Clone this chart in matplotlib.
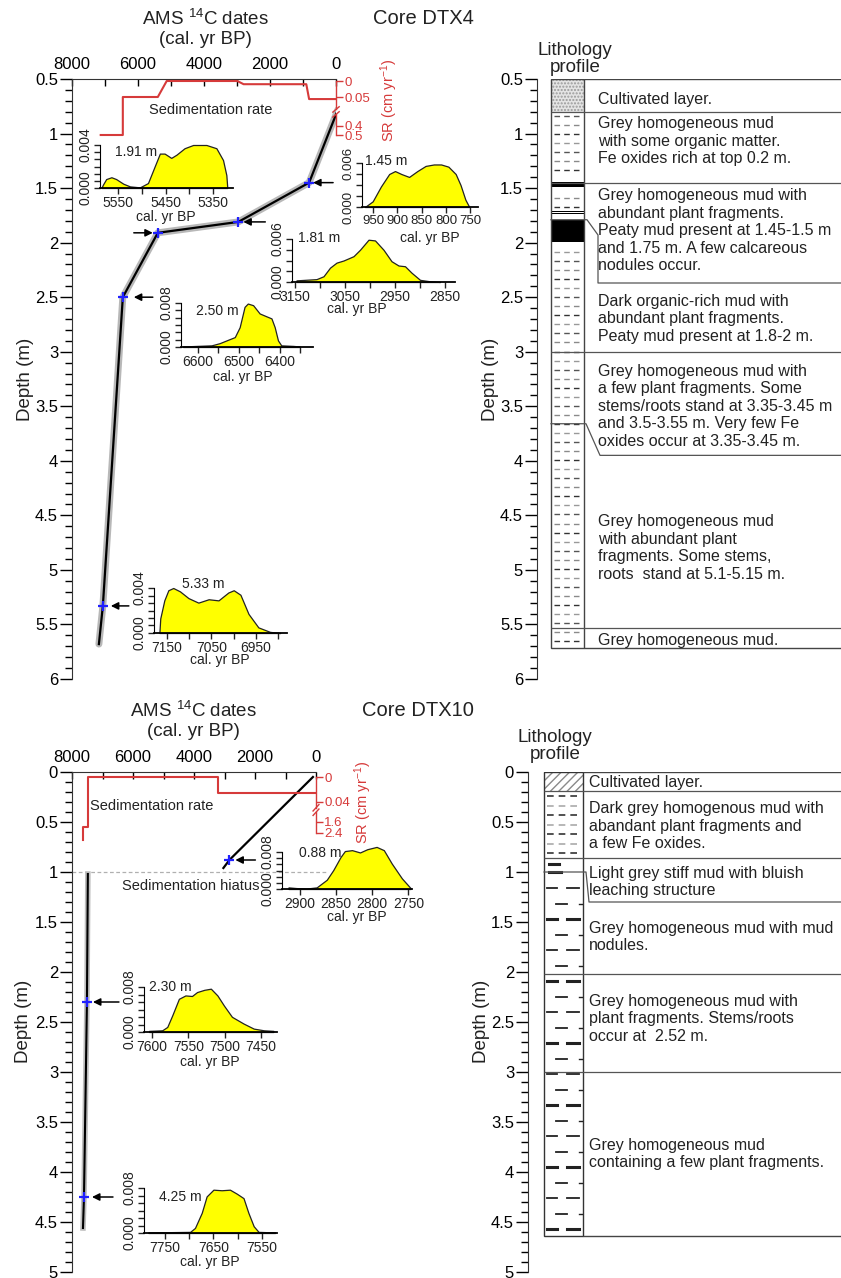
import numpy as np
import matplotlib
matplotlib.use("Agg")
import matplotlib.pyplot as plt
from matplotlib.patches import Rectangle
from matplotlib.ticker import MultipleLocator, FormatStrFormatter, NullLocator

plt.rcParams['font.family'] = ['Liberation Sans', 'DejaVu Sans']
plt.rcParams['mathtext.fontset'] = 'custom'
plt.rcParams['mathtext.rm'] = 'Liberation Sans'
plt.rcParams['mathtext.it'] = 'Liberation Sans:italic'
plt.rcParams['mathtext.bf'] = 'Liberation Sans:bold'

# ---------------- data ----------------
# age-depth model DTX4
dtx4_age = [-60, 815, 2960, 5400, 6460, 7065, 7185]
dtx4_depth = [0.78, 1.45, 1.81, 1.91, 2.50, 5.33, 5.68]
dtx4_dated_age = [815, 2960, 5400, 6460, 7065]
dtx4_dated_depth = [1.45, 1.81, 1.91, 2.50, 5.33]

# sedimentation rate DTX4 (cm/yr)
dtx4_sr_age = [7130, 6460, 6460, 5400, 5130, 2990, 2800, 900, 815, 30]
dtx4_sr = [0.5, 0.5, 0.05, 0.05, 0.0, 0.0, 0.01, 0.01, 0.075, 0.075]

# age-depth model DTX10 (two segments, hiatus at 1 m)
dtx10_top_age = [100, 2840, 3036]
dtx10_top_depth = [0.05, 0.88, 0.96]
dtx10_low_age = [7480, 7510, 7607, 7640]
dtx10_low_depth = [1.02, 2.30, 4.25, 4.56]
dtx10_dated_age = [2840, 7510, 7607]
dtx10_dated_depth = [0.88, 2.30, 4.25]

dtx10_sr_age = [7640, 7640, 7480, 7480, 3200, 3200, 30]
dtx10_sr = [2.9, 2.0, 2.0, 0.0, 0.0, 0.026, 0.026]

# calibrated probability distributions
a_age = [5585, 5582, 5575, 5564, 5554, 5539, 5525, 5504, 5487, 5473, 5462, 5452, 5438, 5427, 5410, 5392, 5364, 5343, 5329, 5322, 5320]
a_p = [0, 0.0003, 0.00083, 0.001, 0.00083, 0.0004, 0.00015, 0.00006, 0.00046, 0.002, 0.0032, 0.0032, 0.0028, 0.0031, 0.0037, 0.004, 0.004, 0.0037, 0.0026, 0.0012, 0.0]

b_age = [967, 951, 934, 917, 905, 892, 876, 859, 842, 825, 810, 795, 780, 770, 760, 752]
b_p = [0, 0.00077, 0.0028, 0.0045, 0.0049, 0.0045, 0.0041, 0.0049, 0.0056, 0.0058, 0.0058, 0.0055, 0.0045, 0.003, 0.001, 0]

c_age = [3147, 3107, 3093, 3080, 3067, 3053, 3033, 3020, 3003, 2990, 2973, 2957, 2943, 2930, 2917, 2900, 2880, 2860]
c_p = [0.00023, 0.0004, 0.0008, 0.002, 0.0027, 0.003, 0.0036, 0.0045, 0.0059, 0.0058, 0.0045, 0.0029, 0.0023, 0.0022, 0.0013, 0.0003, 0.0001, 0]

d_age = [6637, 6567, 6547, 6527, 6510, 6498, 6486, 6478, 6465, 6449, 6433, 6420, 6412, 6404, 6396, 6367, 6351]
d_p = [0.0001, 0.0003, 0.0007, 0.0013, 0.0018, 0.0036, 0.0073, 0.0079, 0.0076, 0.0061, 0.0056, 0.0052, 0.0036, 0.0012, 0.0003, 0.0002, 0.0001]

e_age = [7166, 7164, 7155, 7146, 7135, 7120, 7101, 7079, 7056, 7034, 7012, 7000, 6985, 6967, 6945, 6919, 6896]
e_p = [0, 0.0013, 0.0029, 0.0038, 0.004, 0.0037, 0.0031, 0.0027, 0.003, 0.0029, 0.0036, 0.0038, 0.0034, 0.0017, 0.0005, 0.0001, 0]

f_age = [2916, 2905, 2891, 2877, 2863, 2854, 2844, 2838, 2828, 2817, 2807, 2794, 2784, 2773, 2759, 2747]
f_p = [0.00035, 0.0002, 0.0001, 0.00035, 0.002, 0.0041, 0.0069, 0.0082, 0.0084, 0.0079, 0.0086, 0.0091, 0.0084, 0.0055, 0.0023, 0.0002]

g_age = [7604, 7586, 7579, 7572, 7563, 7554, 7545, 7538, 7528, 7519, 7510, 7501, 7490, 7474, 7460, 7446, 7433]
g_p = [0.0002, 0.0003, 0.0009, 0.003, 0.0059, 0.0065, 0.0064, 0.0071, 0.0075, 0.0077, 0.0065, 0.0047, 0.0027, 0.0015, 0.0006, 0.0003, 0.0002]

h_age = [7784, 7698, 7688, 7674, 7664, 7650, 7633, 7616, 7602, 7588, 7578, 7567, 7557, 7523]
h_p = [0.0001, 0.0002, 0.0009, 0.0036, 0.0065, 0.0077, 0.0076, 0.0077, 0.007, 0.0062, 0.0036, 0.0012, 0.0002, 0.0001]

# lithology DTX4
dtx4_top, dtx4_bot = 0.5, 5.72
dtx4_cult = (0.5, 0.8)
dtx4_peat = [(1.44, 1.49), (1.71, 1.715), (1.73, 1.735), (1.79, 1.99)]
dtx4_lines = [0.8, 1.45, 3.0, 5.53]
dtx4_desc = [
    "Cultivated layer.",
    "Grey homogeneous mud\nwith some organic matter.\nFe oxides rich at top 0.2 m.",
    "Grey homogeneous mud with\nabundant plant fragments.\nPeaty mud present at 1.45-1.5 m\nand 1.75 m. A few calcareous\nnodules occur.",
    "Dark organic-rich mud with\nabundant plant fragments.\nPeaty mud present at 1.8-2 m.",
    "Grey homogeneous mud with\na few plant fragments. Some\nstems/roots stand at 3.35-3.45 m\nand 3.5-3.55 m. Very few Fe\noxides occur at 3.35-3.45 m.",
    "Grey homogeneous mud\nwith abundant plant\nfragments. Some stems,\nroots  stand at 5.1-5.15 m.",
    "Grey homogeneous mud.",
]
dtx4_desc_y = [0.69, 1.07, 1.89, 2.70, 3.50, 4.80, 5.65]

# lithology DTX10
dtx10_top, dtx10_bot = 0.0, 4.64
dtx10_cult = (0.0, 0.19)
dtx10_lines = [0.19, 0.86, 2.02, 3.0]
dtx10_desc = [
    "Cultivated layer.",
    "Dark grey homogenous mud with\nabandant plant fragments and\na few Fe oxides.",
    "Light grey stiff mud with bluish\nleaching structure",
    "Grey homogeneous mud with mud\nnodules.",
    "Grey homogeneous mud with\nplant fragments. Stems/roots\noccur at  2.52 m.",
    "Grey homogeneous mud\ncontaining a few plant fragments.",
]
dtx10_desc_y = [0.11, 0.54, 1.10, 1.65, 2.47, 3.82]

RED = '#d63a3a'
W, H = 841, 1278
fig = plt.figure(figsize=(W / 100, H / 100), dpi=100)


def box(x0, y0, x1, y1):
    return [x0 / W, 1 - y1 / H, (x1 - x0) / W, (y1 - y0) / H]


def ftext(x, y, s, **kw):
    fig.text(x / W, 1 - y / H, s, **kw)


def depth_axis(ax, d0, d1):
    ax.set_facecolor('none')
    ax.set_ylim(d1, d0)
    ax.spines['right'].set_visible(False)
    ax.spines['bottom'].set_visible(False)
    ax.yaxis.set_major_locator(MultipleLocator(0.5))
    ax.yaxis.set_minor_locator(MultipleLocator(0.1))
    ax.yaxis.set_major_formatter(FormatStrFormatter('%g'))
    ax.tick_params(axis='y', which='major', length=9, width=1, labelsize=12, pad=1)
    ax.tick_params(axis='y', which='minor', length=5, width=1)
    for s in ax.spines.values():
        s.set_color('#333')


def age_axis(ax):
    ax.set_xlim(8000, 0)
    ax.xaxis.tick_top()
    ax.set_xticks([8000, 6000, 4000, 2000, 0])
    ax.xaxis.set_minor_locator(MultipleLocator(1000))
    ax.tick_params(axis='x', which='both', direction='in', length=5, width=1,
                   labelsize=12, pad=5, top=True, bottom=False)


def sr_axis(rect, vals, pxs, vmax, ticks, gap, sr_age, sr):
    ax = fig.add_axes(box(*rect))
    ax.set_facecolor('none')
    fwd = lambda v: np.interp(v, vals, pxs)
    inv = lambda p: np.interp(p, pxs, vals)
    ax.set_yscale('function', functions=(fwd, inv))
    ax.set_xlim(8000, 0)
    ax.set_ylim(vmax, 0)
    for s in ax.spines.values():
        s.set_visible(False)
    ax.set_xticks([])
    ax.yaxis.set_ticks_position('right')
    ax.set_yticks(ticks)
    ax.yaxis.set_minor_locator(NullLocator())
    ax.yaxis.set_major_formatter(FormatStrFormatter('%g'))
    ax.tick_params(axis='y', colors=RED, labelcolor=RED, length=5, width=1, labelsize=9.5, pad=1)
    ax.plot([0, 0], [0, gap[0]], color=RED, lw=1, clip_on=False)
    ax.plot([0, 0], [gap[1], ticks[-1]], color=RED, lw=1, clip_on=False)
    tot = fwd(vmax)
    for g in gap:
        yb = 1 - fwd(g) / tot
        ax.plot([0.988, 1.012], [yb - 0.05, yb + 0.05], color=RED, lw=1,
                transform=ax.transAxes, clip_on=False)
    ax.plot(sr_age, sr, color=RED, lw=1.5, clip_on=False)
    return ax


def inset(rect, age, p, xlim, ymax, major, minor, nminor, label, label_xy, cal_xy, fs=10):
    ax = fig.add_axes(box(*rect))
    ax.set_facecolor('none')
    ax.fill_between(age, p, 0, facecolor='#ffff00', edgecolor='#222', lw=0.9, clip_on=False)
    ax.set_xlim(*xlim)
    ax.set_ylim(0, ymax)
    ax.spines['top'].set_visible(False)
    ax.spines['right'].set_visible(False)
    ax.spines['bottom'].set_linewidth(1.3)
    ax.set_xticks(major)
    ax.set_xticks(minor, minor=True)
    ax.set_yticks([0, ymax])
    ax.set_yticks(np.linspace(0, ymax, nminor + 1), minor=True)
    ax.yaxis.set_major_formatter(FormatStrFormatter('%.3f'))
    ax.tick_params(axis='both', which='both', length=4, width=1, labelsize=fs, pad=1.5, colors='#222')
    ax.tick_params(axis='y', labelrotation=90)
    for lab in ax.get_yticklabels():
        lab.set_va('center')
    ftext(label_xy[0], label_xy[1], label, fontsize=10, ha='left', va='center', color='#222')
    ftext(cal_xy[0], cal_xy[1], 'cal. yr BP', fontsize=10, ha='center', va='center', color='#222')
    return ax


def arrow(ax, age, depth, tail, gap):
    ax.annotate('', xy=(age, depth), xytext=(tail, 0), textcoords='offset pixels',
                arrowprops=dict(arrowstyle='-|>', color='black', lw=1.1,
                                shrinkA=0, shrinkB=gap * 0.72, mutation_scale=11))


# ================= DTX4 age-depth =================
ax1 = fig.add_axes(box(72, 79, 336, 679))
depth_axis(ax1, 0.5, 6)
age_axis(ax1)
ax1.plot(dtx4_age, dtx4_depth, color='#b8b8b8', lw=5, solid_capstyle='round')
ax1.plot(dtx4_age, dtx4_depth, color='black', lw=1.6)
ax1.plot(dtx4_dated_age, dtx4_dated_depth, '+', color='#2020ff', ms=7, mew=1.6)
for (a, d), (tail, gap) in zip(zip(dtx4_dated_age, dtx4_dated_depth),
                               [(24, 4), (27, 5), (-24, 5), (30, 11), (26, 8)]):
    arrow(ax1, a, d, tail, gap)

sr_axis((72, 81, 336, 135), [0, 0.05, 0.4, 0.5], [0, 16, 45, 54], 0.5,
        [0, 0.05, 0.4, 0.5], (0.2, 0.26), dtx4_sr_age, dtx4_sr)
ftext(211, 110, 'Sedimentation rate', fontsize=10.5, ha='center', va='center', color='#222')
ftext(389, 100, 'SR (cm yr$^{-1}$)', fontsize=10.5, rotation=90, ha='center', va='center', color=RED)

ftext(205, 28, 'AMS $^{14}$C dates\n(cal. yr BP)', fontsize=13.5, ha='center', va='center',
      linespacing=1.15, color='#222')
ftext(373, 18, 'Core DTX4', fontsize=14.5, ha='left', va='center', color='#222')
ftext(25, 379, 'Depth (m)', fontsize=13.5, rotation=90, ha='center', va='center', color='#222')

inset((100, 145, 233, 188), a_age, a_p, (5588, 5308), 0.004, [5550, 5450, 5350], [5500, 5400], 6,
      '1.91 m', (115, 152), (166, 217))
inset((362, 163, 478, 207), b_age, b_p, (973, 734), 0.006, [950, 900, 850, 800, 750], [], 4,
      '1.45 m', (365, 161), (430, 238), fs=9.5)
inset((292, 239, 455, 282), c_age, c_p, (3156, 2830), 0.006, [3150, 3050, 2950, 2850], [3100, 3000, 2900], 4,
      '1.81 m', (298, 238), (357, 309))
inset((181, 303, 313, 347), d_age, d_p, (6642, 6318), 0.008, [6600, 6500, 6400], [6550, 6450, 6350], 6,
      '2.50 m', (196, 311), (243, 377))
inset((154, 588, 287, 633), e_age, e_p, (7178, 6881), 0.004, [7150, 7050, 6950], [7100, 7000, 6900], 6,
      '5.33 m', (182, 584), (220, 660))

# ================= DTX4 lithology =================
ax3 = fig.add_axes(box(537, 79, 870, 679))
depth_axis(ax3, 0.5, 6)
ax3.spines['top'].set_visible(False)
ax3.set_xlim(537, 870)
ax3.set_xticks([])
ax3.add_patch(Rectangle((551, dtx4_cult[0]), 33, dtx4_cult[1] - dtx4_cult[0],
                        facecolor='#e4e4e4', edgecolor='#9a9a9a', hatch='.....', lw=0))
rows = np.arange(0.84, 5.70, 0.083)
shades = ['#555555', '#8a8a8a', '#333333', '#999999']
for i, d in enumerate(rows):
    if any(a - 0.02 <= d <= b + 0.02 for a, b in dtx4_peat):
        continue
    ax3.plot([554, 582], [d, d], color=shades[i % 4], lw=1, dashes=(4, 3))
for a, b in dtx4_peat:
    ax3.add_patch(Rectangle((551, a), 33, b - a, facecolor='black', lw=0))
ax3.add_patch(Rectangle((551, dtx4_top), 33, dtx4_bot - dtx4_top, fill=False, edgecolor='#444', lw=1))
ax3.hlines([dtx4_top, dtx4_bot], 584, 870, color='#444', lw=1)
ax3.hlines(dtx4_lines, 551, 870, color='#555', lw=0.9)
ax3.plot([551, 587, 598, 598, 870], [1.79, 1.79, 1.93, 2.37, 2.37], color='#555', lw=0.9)
ax3.plot([551, 586, 600, 870], [3.66, 3.66, 3.95, 3.95], color='#555', lw=0.9)
for s, y in zip(dtx4_desc, dtx4_desc_y):
    ax3.text(598, y, s, fontsize=11.5, ha='left', va='center', linespacing=1.2, color='#222')
ftext(575, 59, 'Lithology\nprofile', fontsize=13.5, ha='center', va='center', linespacing=1.05, color='#222')
ftext(490, 379, 'Depth (m)', fontsize=13.5, rotation=90, ha='center', va='center', color='#222')

# ================= DTX10 age-depth =================
ax2 = fig.add_axes(box(72, 772, 316, 1272))
depth_axis(ax2, 0, 5)
age_axis(ax2)
ax2.plot([8000, -350], [1.0, 1.0], ls=(0, (3, 2)), color='#b0b0b0', lw=0.9, clip_on=False)
ax2.plot(dtx10_low_age, dtx10_low_depth, color='#bdbdbd', lw=4)
ax2.plot(dtx10_low_age, dtx10_low_depth, color='black', lw=1.5)
ax2.plot(dtx10_top_age, dtx10_top_depth, color='black', lw=1.6)
ax2.plot(dtx10_dated_age, dtx10_dated_depth, '+', color='#2020ff', ms=7, mew=1.6)
for (a, d), (tail, gap) in zip(zip(dtx10_dated_age, dtx10_dated_depth), [(26, 6), (32, 6), (29, 8)]):
    arrow(ax2, a, d, tail, gap)

sr_axis((72, 777, 316, 841), [0, 0.04, 1.6, 2.4, 3.0], [0, 25, 45, 56, 64.25], 3.0,
        [0, 0.04, 1.6, 2.4], (0.5, 0.85), dtx10_sr_age, dtx10_sr)
ftext(152, 806, 'Sedimentation rate', fontsize=10.5, ha='center', va='center', color='#222')
ftext(191, 886, 'Sedimentation hiatus', fontsize=10.5, ha='center', va='center', color='#222')
ftext(363, 802, 'SR (cm yr$^{-1}$)', fontsize=10.5, rotation=90, ha='center', va='center', color=RED)

ftext(193, 720, 'AMS $^{14}$C dates\n(cal. yr BP)', fontsize=13.5, ha='center', va='center',
      linespacing=1.15, color='#222')
ftext(362, 710, 'Core DTX10', fontsize=14.5, ha='left', va='center', color='#222')
ftext(23, 1021, 'Depth (m)', fontsize=13.5, rotation=90, ha='center', va='center', color='#222')

inset((282, 852, 412, 889), f_age, f_p, (2925, 2745), 0.008, [2900, 2850, 2800, 2750], [], 6,
      '0.88 m', (299, 853), (357, 917))
inset((144, 987, 277, 1032), g_age, g_p, (7611, 7428), 0.008, [7600, 7550, 7500, 7450], [], 6,
      '2.30 m', (149, 987), (210, 1062))
inset((144, 1188, 277, 1233), h_age, h_p, (7793, 7519), 0.008, [7750, 7650, 7550], [7700, 7600], 6,
      '4.25 m', (159, 1197), (210, 1262))

# ================= DTX10 lithology =================
ax4 = fig.add_axes(box(528, 772, 870, 1272))
depth_axis(ax4, 0, 5)
ax4.spines['top'].set_visible(False)
ax4.set_xlim(528, 870)
ax4.set_xticks([])
ax4.add_patch(Rectangle((544, dtx10_cult[0]), 39, dtx10_cult[1] - dtx10_cult[0],
                        fill=False, edgecolor='#8a8a8a', hatch='////', lw=0))
for i, d in enumerate(np.arange(0.24, 0.84, 0.095)):
    ax4.plot([547, 582], [d, d], color=['#333333', '#aaaaaa'][i % 2], lw=1.2, dashes=(4, 3))
ax4.plot([549, 559], [0.92, 0.92], color='#222', lw=2.2)
ax4.plot([549, 561], [1.0, 1.0], color='#222', lw=2.2)
for i, d in enumerate(np.arange(1.16, 4.6, 0.155)):
    lw = 2.2 if i % 4 == 2 else 1.3
    if i % 2 == 0:
        ax4.plot([547, 557], [d, d], color='#222', lw=lw)
        ax4.plot([567, 579], [d, d], color='#222', lw=lw)
    else:
        ax4.plot([556, 567], [d, d], color='#222', lw=lw)
        ax4.plot([579, 582], [d, d], color='#222', lw=1)
ax4.add_patch(Rectangle((544, dtx10_top), 39, dtx10_bot - dtx10_top, fill=False, edgecolor='#333', lw=1))
ax4.hlines([dtx10_top, dtx10_bot], 583, 870, color='#444', lw=1)
ax4.hlines(dtx10_lines, 544, 870, color='#555', lw=0.9)
ax4.plot([544, 586, 589, 870], [1.0, 1.0, 1.3, 1.3], color='#555', lw=0.9)
for s, y in zip(dtx10_desc, dtx10_desc_y):
    ax4.text(589, y, s, fontsize=11.5, ha='left', va='center', linespacing=1.2, color='#222')
ftext(555, 746, 'Lithology\nprofile', fontsize=13.5, ha='center', va='center', linespacing=1.05, color='#222')
ftext(482, 1021, 'Depth (m)', fontsize=13.5, rotation=90, ha='center', va='center', color='#222')

fig.savefig('out.png', dpi=100, facecolor='white')
